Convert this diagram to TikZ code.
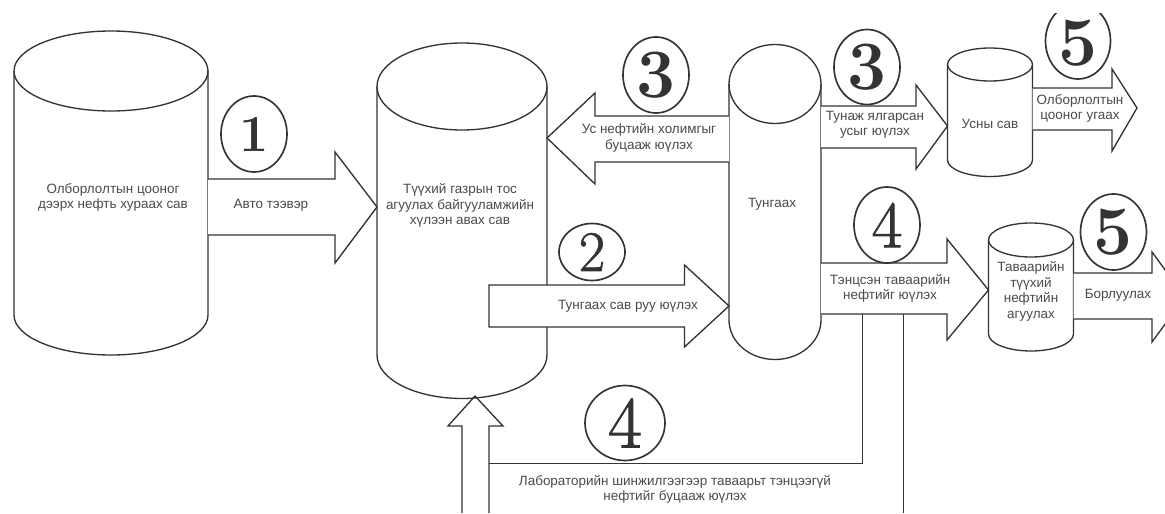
\documentclass[tikz,border=0pt]{standalone}
\usepackage{fontspec}
\setsansfont{Liberation Sans}
\newfontfamily\meddigit[FakeBold=1.2]{Latin Modern Roman}
\definecolor{ink}{HTML}{333333}
\definecolor{txt}{HTML}{4A4A4A}
\tikzset{
  outline/.style={draw=ink,line width=1pt,line join=miter},
  blockarrow/.style={outline,fill=white},
  lab/.style={font=\sffamily\fontsize{10.1}{11.6}\selectfont,text=txt,align=center,inner sep=0pt},
  badge/.style={draw=ink,line width=1.25pt},
  digit/.style={font=\meddigit\fontsize{#1}{#1}\selectfont,text=ink,inner sep=0pt},
  digitb/.style={font=\rmfamily\bfseries\fontsize{#1}{#1}\selectfont,text=ink,inner sep=0pt}
}
% name, cx, rx, top-centre y, bottom-centre y, ry
\newcommand\tank[6]{%
  \coordinate (#1-nw) at ({#2-#3},#4);
  \coordinate (#1-ne) at ({#2+#3},#4);
  \coordinate (#1-sw) at ({#2-#3},#5);
  \coordinate (#1-se) at ({#2+#3},#5);
  \draw[outline] (#1-nw) -- (#1-sw)
     .. controls ({#2-#3},{#5+0.5523*#6}) and ({#2-0.5523*#3},{#5+#6}) .. (#2,{#5+#6})
     .. controls ({#2+0.5523*#3},{#5+#6}) and ({#2+#3},{#5+0.5523*#6}) .. (#1-se)
     -- (#1-ne)
     .. controls ({#2+#3},{#4-0.5523*#6}) and ({#2+0.5523*#3},{#4-#6}) .. (#2,{#4-#6})
     .. controls ({#2-0.5523*#3},{#4-#6}) and ({#2-#3},{#4-0.5523*#6}) .. (#1-nw);
}
\newcommand\front[5]{%
  \draw[#5] ({#1-#2},#3)
     .. controls ({#1-#2},{#3+0.5523*#4}) and ({#1-0.5523*#2},{#3+#4}) .. (#1,{#3+#4})
     .. controls ({#1+0.5523*#2},{#3+#4}) and ({#1+#2},{#3+0.5523*#4}) .. ({#1+#2},#3);
}
% name, cx, cy, rx, ry, digit, size, dy, digit style
\newcommand\badge[9]{%
  \draw[badge] (#2,#3) ellipse[x radius=#4,y radius=#5];
  \node[#9=#7] (#1) at (#2,#3+#8) {#6};
}
\begin{document}
\begin{tikzpicture}[x=0.75pt,y=-0.75pt]
\useasboundingbox (0,0) rectangle (1165,514);
\clip (0,13) rectangle (1165,512);

\tank{src}{111}{97}{71}{315}{40}
\tank{recv}{462}{85}{86.5}{355}{43.5}
\tank{settle}{775}{46}{84}{320}{39.5}
\tank{water}{990}{42.5}{64.5}{160}{16.5}
\tank{prod}{1031}{42.5}{240}{334}{17}

% arrow 1
\draw[blockarrow] (src-ne |- 0,179) -- (335,179) -- (335,152) -- (recv-nw |- 0,207)
  -- (335,263) -- (335,235) -- (src-ne |- 0,235);
% arrow 3 left
\draw[blockarrow] (settle-nw |- 0,116) -- (595,116) -- (595,93) -- (recv-ne |- 0,138)
  -- (595,184) -- (595,162) -- (settle-nw |- 0,162);
% arrow 2
\draw[blockarrow] (489,285) -- (684.5,285) -- (684.5,265) -- (settle-nw |- 0,306)
  -- (684.5,347) -- (684.5,327) -- (489,327) -- cycle;
% arrow 3 right
\draw[blockarrow] (settle-ne |- 0,106) -- (916,106) -- (916,85) -- (water-nw |- 0,126)
  -- (916,169) -- (916,148) -- (settle-ne |- 0,148);
% arrow 5 upper
\draw[blockarrow] (water-ne |- 0,88) -- (1112,88) -- (1112,69) -- (1137,108)
  -- (1112,151) -- (1112,130) -- (water-ne |- 0,130);
% arrow 4
\draw[blockarrow] (settle-ne |- 0,263) -- (947,263) -- (947,239) -- (prod-nw |- 0,290)
  -- (947,340) -- (947,314) -- (settle-ne |- 0,314);
% arrow 5 lower
\draw[blockarrow] (prod-ne |- 0,273) -- (1152,273) -- (1152,252) -- (1185,297)
  -- (1152,342) -- (1152,319) -- (prod-ne |- 0,319);
% return arrow
\draw[outline] (862.5,314) -- (862.5,463.5) -- (489,463.5);
\draw[outline] (489,516) -- (489,426) -- (503,426) -- (475,396) -- (448,426) -- (462,426) -- (462,516);
\draw[outline] (903.5,314) -- (903.5,516);

% badges
\badge{b1}{254}{134}{33}{38}{1}{39}{0}{digitb}
\badge{b3a}{656}{75}{33}{38}{3}{52}{0}{digitb}
\badge{b2}{592}{252}{33}{28.5}{2}{43}{0}{digit}
\badge{b3b}{867}{67}{33}{37.5}{3}{52}{0}{digitb}
\badge{b5a}{1078}{41}{32.5}{38}{5}{52}{2}{digitb}
\badge{b4a}{887}{225}{33}{38}{4}{50}{0}{digit}
\badge{b5b}{1113.5}{232}{33}{38}{5}{52}{0}{digitb}
\badge{b4b}{625}{423}{40}{37.5}{4}{55}{0}{digit}

% labels
\node[lab] (t1) at (113,197.5) {Олборлолтын цооног\\дээрх нефть хураах сав};
\node[lab] (t2) at (271,205) {Авто тээвэр};
\node[lab] (t3) at (460,205.5) {Түүхий газрын тос\\агуулах байгууламжийн\\хүлээн авах сав};
\node[lab] (t4) at (649,138) {Ус нефтийн холимгыг\\буцааж юүлэх};
\node[lab] (t5) at (628,306) {Тунгаах сав руу юүлэх};
\node[lab] (t6) at (772,204) {Тунгаах};
\node[lab] (t7) at (875,125) {Тунаж ялгарсан\\усыг юүлэх};
\node[lab] (t8) at (990,124) {Усны сав};
\node[lab] (t9) at (1080,108.5) {Олборлолтын\\цооног угаах};
\node[lab] (t10) at (890,288.5) {Тэнцсэн таваарийн\\нефтийг юүлэх};
\node[lab] (t11) at (1031,291.5) {Таваарийн\\түүхий\\нефтийн\\агуулах};
\node[lab] (t12) at (1118,295) {Борлуулах};
\node[lab] (t13) at (675,489.5) {Лабораторийн шинжилгээгээр таваарьт тэнцээгүй\\нефтийг буцааж юүлэх};

% top-ellipse front edges
\front{111}{97}{71}{40}{outline}
\front{462}{85}{86.5}{43.5}{outline}
\front{775}{46}{84}{39.5}{outline}
\front{990}{42.5}{64.5}{16.5}{outline}
\front{1031}{42.5}{240}{17}{outline}
\end{tikzpicture}
\end{document}
